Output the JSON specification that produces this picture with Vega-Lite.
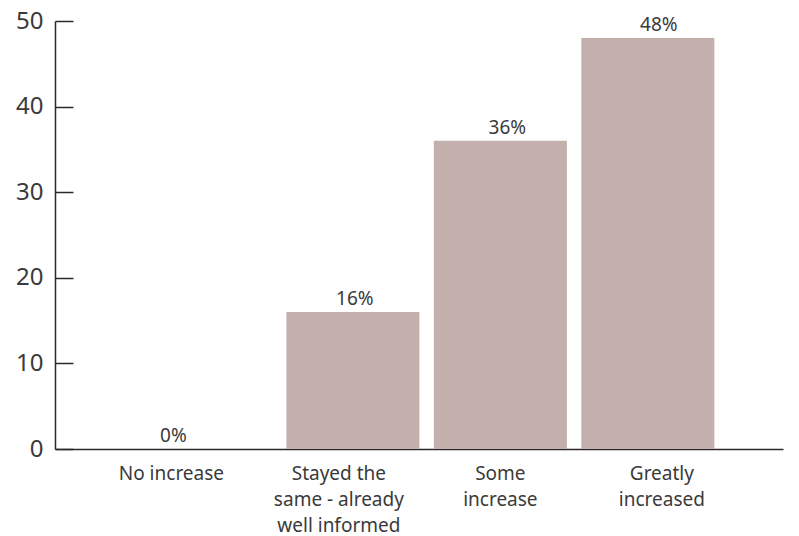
{
  "$schema": "https://vega.github.io/schema/vega-lite/v6.json",
  "autosize": "none",
  "width": 728,
  "height": 428,
  "padding": {"left": 55, "top": 21, "right": 16, "bottom": 87},
  "background": "white",
  "config": {
    "view": {"stroke": null},
    "font": "Noto Sans"
  },
  "data": {
    "values": [
      {"category": "No increase", "value": 0, "label": "0%"},
      {"category": "Stayed the same - already well informed", "value": 16, "label": "16%"},
      {"category": "Some increase", "value": 36, "label": "36%"},
      {"category": "Greatly increased", "value": 48, "label": "48%"}
    ]
  },
  "encoding": {
    "x": {
      "field": "category",
      "type": "nominal",
      "sort": null,
      "scale": {"paddingInner": 0.098, "paddingOuter": 0.517, "align": 0.55},
      "axis": {
        "title": null,
        "ticks": false,
        "domain": true,
        "domainColor": "#2a2a2a",
        "domainWidth": 1.5,
        "labelAngle": 0,
        "labelFont": "Noto Sans",
        "labelFontSize": 19,
        "labelColor": "#3a3a3a",
        "labelPadding": 15,
        "labelLineHeight": 26,
        "labelBaseline": "top",
        "labelOffset": {"condition": [
          {"test": "datum.value == 'No increase'", "value": -34},
          {"test": "datum.value == 'Stayed the same - already well informed'", "value": -14},
          {"test": "datum.value == 'Greatly increased'", "value": 14}
        ], "value": 0},
        "labelExpr": "datum.label == 'Stayed the same - already well informed' ? ['Stayed the', 'same - already', 'well informed'] : datum.label == 'Some increase' ? ['Some', 'increase'] : datum.label == 'Greatly increased' ? ['Greatly', 'increased'] : datum.label"
      }
    },
    "y": {
      "field": "value",
      "type": "quantitative",
      "scale": {"domain": [0, 50], "nice": false},
      "axis": {
        "title": null,
        "values": [0, 10, 20, 30, 40, 50],
        "grid": false,
        "domain": true,
        "domainColor": "#2a2a2a",
        "domainWidth": 1.5,
        "ticks": true,
        "tickSize": -18,
        "tickWidth": 1.5,
        "tickColor": "#2a2a2a",
        "labelFont": "Noto Sans",
        "labelFontSize": 24,
        "labelColor": "#3a3a3a",
        "labelPadding": 30
      }
    }
  },
  "layer": [
    {
      "mark": {"type": "bar", "color": "#c3b0ad"}
    },
    {
      "mark": {"type": "text", "baseline": "bottom", "dy": -3, "fontSize": 19, "color": "#3a3a3a", "font": "Noto Sans", "dx": {"expr": "datum.value == 0 ? -32 : datum.value == 36 ? 7 : datum.value == 48 ? 11 : 2"}},
      "encoding": {"text": {"field": "label"}}
    }
  ]
}
